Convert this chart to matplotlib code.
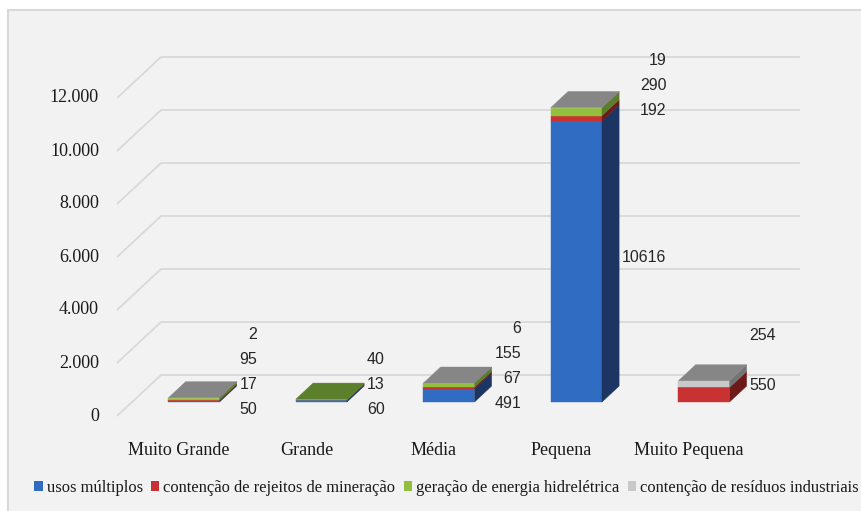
import matplotlib
matplotlib.use("Agg")
import matplotlib.pyplot as plt
from matplotlib.patches import Polygon, Rectangle, Patch

# ---------------- data ----------------
categories = ["Muito Grande", "Grande", "Média", "Pequena", "Muito Pequena"]
series_names = ["usos múltiplos", "contenção de rejeitos de mineração",
                "geração de energia hidrelétrica", "contenção de resíduos industriais"]
usos_multiplos = [50, 60, 491, 10616, 0]
rejeitos_mineracao = [17, 13, 67, 192, 550]
energia_hidreletrica = [95, 40, 155, 290, 0]
residuos_industriais = [2, 0, 6, 19, 254]
y_ticks = [0, 2000, 4000, 6000, 8000, 10000, 12000]
y_tick_labels = ["0", "2.000", "4.000", "6.000", "8.000", "10.000", "12.000"]

series_values = [usos_multiplos, rejeitos_mineracao, energia_hidreletrica, residuos_industriais]

# ---------------- style ----------------
front_colors = ["#2f6cc2", "#c83232", "#93c03c", "#c9c9c9"]
side_colors = ["#1d3562", "#6e1a1a", "#5a7f28", "#747474"]
top_colors = ["#3a5f9a", "#8b2a2a", "#5b7f2b", "#868686"]
grid_color = "#d9d9d9"
text_color = "#1a1a1a"
serif = ["Liberation Serif", "DejaVu Serif"]
sans = ["Liberation Sans", "DejaVu Sans"]

W, H, DPI = 861, 511, 100
fig = plt.figure(figsize=(W / DPI, H / DPI), dpi=DPI, facecolor="white")

# chart area background
bg = fig.add_axes([0, 0, 1, 1], zorder=-10)
bg.set_xlim(0, W)
bg.set_ylim(H, 0)
bg.axis("off")
bg.add_patch(Rectangle((8, 10), W + 20, H + 20, facecolor="#f2f2f2",
                       edgecolor="#d9d9d9", lw=1.5))

ax = fig.add_axes([0, 0, 1, 1], zorder=1)
ax.patch.set_visible(False)
ax.axis("off")

# layout: front plane mapping (pixels)
x0_px, cat_px = 179.0, 127.5        # category 0 centre, spacing
y0_px, val_px = 416.0, 53.0 / 2000   # value 0 line, px per unit
ax.set_xlim(-x0_px / cat_px, (W - x0_px) / cat_px)
ax.set_ylim((y0_px - H) / val_px, y0_px / val_px)

# depth vectors in data units
dx_full = 44 / cat_px
dy_full = 41 / val_px
f_front, f_back = 0.34, 0.73
fx, fy = f_front * dx_full, f_front * dy_full
bx, by = f_back * dx_full, f_back * dy_full
bar_w = 51 / cat_px
x_left, x_right = -0.486, 4.525

# walls / gridlines
for v, lab in zip(y_ticks, y_tick_labels):
    ax.plot([x_left, x_left + dx_full, x_right + dx_full],
            [v, v + dy_full, v + dy_full], color=grid_color, lw=1.3,
            zorder=1, solid_capstyle="butt")
    ax.text((99 - x0_px) / cat_px, v, lab, ha="right", va="center",
            fontsize=13, family=serif, color=text_color)

# category labels
for i, cat in enumerate(categories):
    ax.text(i, -34 / val_px, cat, ha="center", va="center", fontsize=13,
            family=serif, color=text_color)

# bars
fig.canvas.draw()
to_disp = ax.transData.transform
px_per_pt = DPI / 72.0
digit_px = 0.556 * 11.5 * px_per_pt
for i in range(len(categories)):
    c = i
    cum = 0.0
    top_k = None
    centers = []
    heights_px = []
    for k, vals in enumerate(series_values):
        v = vals[i]
        y0, y1 = cum, cum + v
        centers.append((y0 + y1) / 2)
        heights_px.append(v * val_px)
        if v > 0:
            ax.add_patch(Polygon([(c - bar_w / 2 + fx, y0 + fy), (c + bar_w / 2 + fx, y0 + fy),
                                  (c + bar_w / 2 + fx, y1 + fy), (c - bar_w / 2 + fx, y1 + fy)],
                                 closed=True, facecolor=front_colors[k],
                                 edgecolor=front_colors[k], lw=0.3, zorder=3))
            ax.add_patch(Polygon([(c + bar_w / 2 + fx, y0 + fy), (c + bar_w / 2 + bx, y0 + by),
                                  (c + bar_w / 2 + bx, y1 + by), (c + bar_w / 2 + fx, y1 + fy)],
                                 closed=True, facecolor=side_colors[k],
                                 edgecolor=side_colors[k], lw=0.3, zorder=3))
            top_k = k
        cum = y1
    T = cum
    ax.add_patch(Polygon([(c - bar_w / 2 + fx, T + fy), (c + bar_w / 2 + fx, T + fy),
                          (c + bar_w / 2 + bx, T + by), (c - bar_w / 2 + bx, T + by)],
                         closed=True, facecolor=top_colors[top_k],
                         edgecolor=top_colors[top_k], lw=0.3, zorder=3))

    # data labels (spread so they do not overlap)
    anchor_x = c + bar_w / 2 + bx
    max_digits = max(len(str(vals[i])) for vals in series_values if vals[i] > 0)
    x_off_px = 3 + max_digits * digit_px
    gap = 25
    prev = None
    for k, vals in enumerate(series_values):
        cy = to_disp((anchor_x, centers[k] + fy))[1]
        if prev is None:
            ly = cy - 8 if heights_px[k] < 30 else cy + 4
        else:
            ly = max(cy + 8, prev + gap) if heights_px[k - 1] > 100 else max(cy, prev + gap)
        prev = ly
        if vals[i] > 0:
            ax.annotate(str(vals[i]), xy=(anchor_x, centers[k] + fy),
                        xytext=(x_off_px / px_per_pt, (ly - cy) / px_per_pt),
                        textcoords="offset points", ha="right", va="center",
                        fontsize=11.5, family=sans, color="#262626", zorder=5)

# legend
handles = [Patch(facecolor=front_colors[k], edgecolor="none", label=series_names[k])
           for k in range(4)]
fig.legend(handles=handles, loc="center", bbox_to_anchor=(446.5 / W, (H - 488) / H),
           ncol=4, frameon=False, prop={"family": serif, "size": 11.9},
           handlelength=0.5, handleheight=0.5, handletextpad=0.25, columnspacing=0.5,
           labelcolor=text_color)

fig.savefig("out.png", dpi=DPI, facecolor="white")
